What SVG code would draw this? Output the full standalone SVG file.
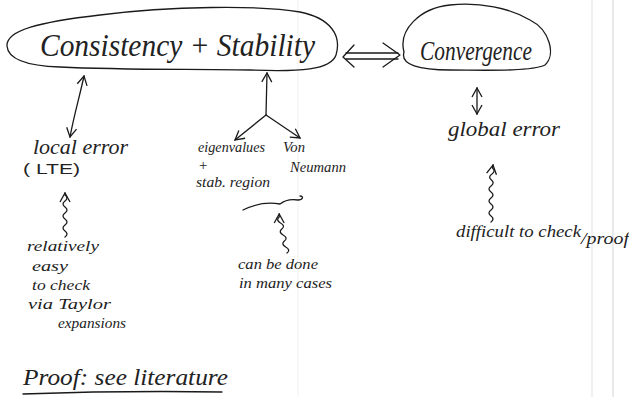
<svg xmlns="http://www.w3.org/2000/svg" width="629" height="397" viewBox="0 0 629 397">
<defs>
<marker id="h" viewBox="0 0 12 12" refX="11" refY="6" markerWidth="12" markerHeight="12" markerUnits="userSpaceOnUse" orient="auto-start-reverse">
<path d="M2,1 L11,6 L2,11" fill="none" stroke="#1a1a1a" stroke-width="1.3"/>
</marker>
<style>
.ln{fill:none;stroke:#1a1a1a;stroke-width:1.3;stroke-linecap:round;stroke-linejoin:round}
.t{font-family:'Liberation Serif', serif;font-style:italic;fill:#222222}
.fold{stroke-width:1.2;fill:none}
</style>
</defs>
<rect width="629" height="397" fill="#ffffff"/>
<line class="fold" x1="298" y1="0" x2="298" y2="397" stroke="#f4f4f4"/>
<line class="fold" x1="592" y1="0" x2="592" y2="397" stroke="#e6e6e6"/>
<line class="fold" x1="613" y1="0" x2="613" y2="397" stroke="#dcdcdc"/>

<g id="node-consistency-stability">
<path class="ln" d="M7,46 C6,30 40,22 100,15 C170,6 260,5 300,12 C330,18 342,35 336,55 C331,70 300,72 250,70 C180,69 120,70 60,67 C30,66 8,60 7,46 Z"/>
<text class="t" x="40" y="56" font-size="31" textLength="275" lengthAdjust="spacingAndGlyphs">Consistency + Stability</text>
</g>

<g id="node-convergence">
<path class="ln" d="M404,52 C398,30 420,8 450,5 C480,2 510,8 530,20 C550,30 556,55 545,65 C530,72 480,70 450,70 C420,70 400,65 404,52 Z"/>
<text class="t" x="420" y="60" font-size="27" textLength="112" lengthAdjust="spacingAndGlyphs">Convergence</text>
</g>

<g id="node-local-error">
<text class="t" x="33" y="154" font-size="20" textLength="95" lengthAdjust="spacingAndGlyphs">local error</text>
<text x="23" y="174" font-size="14" font-family="'Liberation Sans', sans-serif" fill="#222222" textLength="57" lengthAdjust="spacingAndGlyphs">( LTE)</text>
</g>

<g id="node-relatively-easy">
<text class="t" x="27" y="251" font-size="15" textLength="72" lengthAdjust="spacingAndGlyphs">relatively</text>
<text class="t" x="32" y="271" font-size="15" textLength="36" lengthAdjust="spacingAndGlyphs">easy</text>
<text class="t" x="32" y="290" font-size="15" textLength="58" lengthAdjust="spacingAndGlyphs">to check</text>
<text class="t" x="28" y="309" font-size="15" textLength="83" lengthAdjust="spacingAndGlyphs">via Taylor</text>
<text class="t" x="58" y="328" font-size="15" textLength="68" lengthAdjust="spacingAndGlyphs">expansions</text>
</g>

<g id="node-eigenvalues">
<text class="t" x="198" y="152" font-size="15" textLength="67" lengthAdjust="spacingAndGlyphs">eigenvalues</text>
<text class="t" x="198" y="170" font-size="15">+</text>
<text class="t" x="196" y="187" font-size="15" textLength="74" lengthAdjust="spacingAndGlyphs">stab. region</text>
</g>

<g id="node-von-neumann">
<text class="t" x="283" y="152" font-size="15" textLength="22" lengthAdjust="spacingAndGlyphs">Von</text>
<text class="t" x="290" y="172" font-size="15" textLength="56" lengthAdjust="spacingAndGlyphs">Neumann</text>
</g>

<g id="node-can-be-done">
<text class="t" x="238" y="269" font-size="15" textLength="80" lengthAdjust="spacingAndGlyphs">can be done</text>
<text class="t" x="239" y="288" font-size="15" textLength="93" lengthAdjust="spacingAndGlyphs">in many cases</text>
</g>

<g id="node-global-error">
<text class="t" x="448" y="136" font-size="20" textLength="112" lengthAdjust="spacingAndGlyphs">global error</text>
</g>

<g id="node-difficult">
<text class="t" x="456" y="237" font-size="17" textLength="125" lengthAdjust="spacingAndGlyphs">difficult to check</text>
<text class="t" x="581" y="244" font-size="17" textLength="48" lengthAdjust="spacingAndGlyphs">/proof</text>
</g>

<g id="node-proof">
<text class="t" x="23" y="385" font-size="23" textLength="205" lengthAdjust="spacingAndGlyphs">Proof: see literature</text>
<path class="ln" d="M23,394 C80,392 160,391 222,392"/>
</g>

<g id="connectors">
<path class="ln" d="M346,53 L398,53 M346,59 L398,59"/>
<path class="ln" d="M354,45 L343,57 L354,67"/>
<path class="ln" d="M383,43 L400,55 L383,67"/>
<path class="ln" d="M70,137 C74,115 80,95 84,76" marker-start="url(#h)" marker-end="url(#h)"/>
<path class="ln" d="M266,115 L267,73" marker-end="url(#h)"/>
<path class="ln" d="M266,115 L235,140" marker-end="url(#h)"/>
<path class="ln" d="M266,115 L300,138" marker-end="url(#h)"/>
<path class="ln" d="M477,88 L477,114" marker-start="url(#h)" marker-end="url(#h)"/>
<path class="ln" d="M65,237 q4,-3 0,-6 q-4,-3 0,-6 q4,-3 0,-6 q-4,-3 0,-6 q4,-3 0,-6 q-4,-3 0,-6 q4,-3 0,-6 l0,-2" marker-end="url(#h)"/>
<path class="ln" d="M491,222 q4,-3 0,-6 q-4,-3 0,-6 q4,-3 0,-6 q-4,-3 0,-6 q4,-3 0,-6 q-4,-3 0,-6 q4,-3 0.5,-6 q-4,-3 0.5,-6 q4,-3 0.5,-6 l0.5,-3" marker-end="url(#h)"/>
<path class="ln" d="M243,210 C255,204 268,202 280,204 C285,200 292,199 298,200 C303,200 304,196 300,196"/>
<path class="ln" d="M287,253 q4,-3 -1.3,-6 q-5,-3 -1.3,-6 q4,-3 -1.3,-6 q-5,-3 -1.3,-6 q4,-3 -1.3,-6 q-5,-3 -1.3,-6 l0,-3" marker-end="url(#h)"/>
</g>
</svg>
